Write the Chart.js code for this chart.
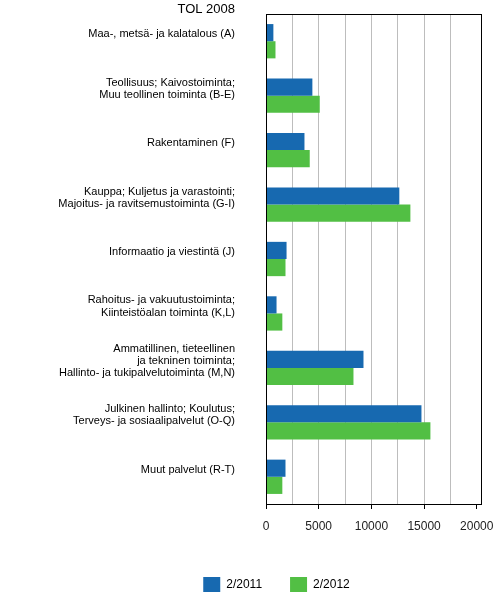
<!DOCTYPE html>
<html>
<head>
<meta charset="utf-8">
<script src="https://cdn.jsdelivr.net/npm/chart.js@4/dist/chart.umd.min.js"></script>
<style>
  html, body { margin: 0; padding: 0; background: #fff; }
  canvas { display: block; }
</style>
</head>
<body>
<canvas id="chart" width="500" height="600"></canvas>
<script>
// Toimialat (TOL 2008)
const categories = [
    'Maa-, metsä- ja kalatalous (A)',
    ['Teollisuus; Kaivostoiminta;', 'Muu teollinen toiminta (B-E)'],
    'Rakentaminen (F)',
    ['Kauppa; Kuljetus ja varastointi;', 'Majoitus- ja ravitsemustoiminta (G-I)'],
    'Informaatio ja viestintä (J)',
    ['Rahoitus- ja vakuutustoiminta;', 'Kiinteistöalan toiminta (K,L)'],
    ['Ammatillinen, tieteellinen', 'ja tekninen toiminta;', 'Hallinto- ja tukipalvelutoiminta (M,N)'],
    ['Julkinen hallinto; Koulutus;', 'Terveys- ja sosiaalipalvelut (O-Q)'],
    'Muut palvelut (R-T)'
];
const seriesLabels = ['2/2011', '2/2012'];
const values2011 = [700, 4400, 3650, 12650, 1950, 1000, 9250, 14750, 1850];
const values2012 = [900, 5100, 4150, 13700, 1850, 1550, 8300, 15600, 1550];
const xTicks = [0, 2500, 5000, 7500, 10000, 12500, 15000, 17500, 20000];
const xLabelled = [0, 5000, 10000, 15000, 20000];
const axisTitle = 'TOL 2008';

const FONT = "'Liberation Sans', Arial, sans-serif";

// kehys + otsikko, selite hieman oikealle
const framePlugin = {
    id: 'frame',
    afterLayout(chart) {
        if (chart.legend) {
            chart.legend.left = 72;
        }
    },
    afterDraw(chart) {
        const { ctx, chartArea: a } = chart;
        ctx.save();
        ctx.strokeStyle = '#000';
        ctx.lineWidth = 1;
        ctx.strokeRect(a.left + 0.5, a.top + 0.5, a.right - a.left, a.bottom - a.top);
        ctx.fillStyle = '#000';
        ctx.font = '13px ' + FONT;
        ctx.textAlign = 'right';
        ctx.textBaseline = 'alphabetic';
        ctx.fillText(axisTitle, a.left - 31, 13);
        ctx.restore();
    }
};

new Chart(document.getElementById('chart'), {
    type: 'bar',
    data: {
        labels: categories,
        datasets: [
            {
                label: seriesLabels[0],
                data: values2011,
                backgroundColor: '#1769b0',
                borderWidth: 0
            },
            {
                label: seriesLabels[1],
                data: values2012,
                backgroundColor: '#52bf44',
                borderWidth: 0
            }
        ]
    },
    options: {
        indexAxis: 'y',
        responsive: false,
        animation: false,
        categoryPercentage: 0.63,
        barPercentage: 1,
        layout: { padding: { top: 14, right: 19, left: 0, bottom: 0 } },
        plugins: {
            tooltip: { enabled: false },
            legend: {
                position: 'bottom',
                maxHeight: 51,
                labels: {
                    boxWidth: 17,
                    boxHeight: 15,
                    padding: 28,
                    color: '#000',
                    font: { family: FONT, size: 12 }
                }
            }
        },
        scales: {
            x: {
                min: 0,
                max: 20400,
                afterBuildTicks(scale) {
                    scale.ticks = xTicks.map(v => ({ value: v }));
                },
                afterFit(scale) {
                    scale.height = 45;
                    scale.paddingLeft = 0;
                    scale.paddingRight = 0;
                },
                ticks: {
                    autoSkip: false,
                    maxRotation: 0,
                    padding: 10,
                    color: '#222',
                    font: { family: FONT, size: 12 },
                    callback(v) { return xLabelled.includes(v) ? String(v) : ''; }
                },
                grid: {
                    color(c) {
                        const v = c.tick ? c.tick.value : 0;
                        return (v === 0 || v >= 20000) ? 'rgba(0,0,0,0)' : '#bdbdbd';
                    },
                    tickColor(c) {
                        const v = c.tick ? c.tick.value : 0;
                        return xLabelled.includes(v) ? '#000' : 'rgba(0,0,0,0)';
                    },
                    tickLength: 5
                },
                border: { color: '#000' }
            },
            y: {
                afterFit(scale) {
                    scale.width = 266;
                    scale.paddingTop = 0;
                    scale.paddingBottom = 0;
                },
                ticks: {
                    padding: 31,
                    labelOffset: -7,
                    color: '#000',
                    font: { family: FONT, size: 11, lineHeight: 1.1 }
                },
                grid: { display: false, drawTicks: false },
                border: { color: '#000' }
            }
        }
    },
    plugins: [framePlugin]
});
</script>
</body>
</html>
